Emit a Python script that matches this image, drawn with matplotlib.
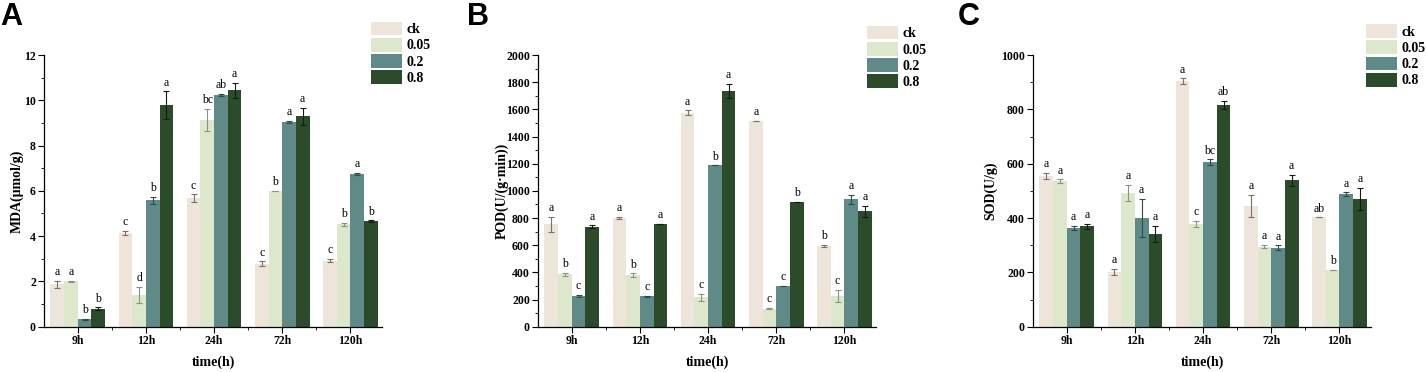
import numpy as np
import matplotlib
matplotlib.use("Agg")
import matplotlib.pyplot as plt
from matplotlib.ticker import MultipleLocator, FixedLocator

plt.rcParams["font.family"] = ["Liberation Serif", "DejaVu Serif"]

times = ["9h", "12h", "24h", "72h", "120h"]
treatments = ["ck", "0.05", "0.2", "0.8"]
colors = ["#ede5d9", "#dce7cb", "#5f8a88", "#2b4b2b"]
err_colors = ["#7a7268", "#8a9380", "#2f4a48", "#101c10"]

# MDA (umol/g), rows = treatments, cols = times
mda = [
    [1.88, 4.15, 5.67, 2.78, 2.92],
    [2.00, 1.41, 9.13, 5.99, 4.52],
    [0.32, 5.58, 10.24, 9.04, 6.74],
    [0.80, 9.78, 10.44, 9.29, 4.67],
]
mda_err = [
    [0.16, 0.08, 0.17, 0.10, 0.08],
    [0.02, 0.35, 0.50, 0.00, 0.07],
    [0.02, 0.15, 0.04, 0.05, 0.04],
    [0.06, 0.61, 0.32, 0.36, 0.03],
]
mda_sig = [
    ["a", "c", "c", "c", "c"],
    ["a", "d", "bc", "b", "b"],
    ["b", "b", "ab", "a", "a"],
    ["b", "a", "a", "a", "b"],
]

# POD (U/(g*min))
pod = [
    [753, 800, 1575, 1517, 594],
    [385, 378, 216, 133, 226],
    [226, 223, 1188, 300, 937],
    [736, 756, 1735, 920, 849],
]
pod_err = [
    [57, 6, 18, 0, 8],
    [10, 15, 25, 5, 45],
    [8, 3, 0, 0, 35],
    [10, 0, 52, 0, 40],
]
pod_sig = [
    ["a", "a", "a", "a", "b"],
    ["b", "b", "c", "c", "c"],
    ["c", "c", "b", "c", "a"],
    ["a", "a", "a", "b", "a"],
]

# SOD (U/g)
sod = [
    [555, 201, 904, 444, 402],
    [535, 491, 378, 294, 209],
    [363, 400, 606, 291, 487],
    [369, 340, 815, 539, 471],
]
sod_err = [
    [10, 12, 10, 40, 0],
    [7, 30, 12, 6, 0],
    [7, 70, 10, 8, 7],
    [10, 30, 15, 20, 40],
]
sod_sig = [
    ["a", "a", "a", "a", "ab"],
    ["a", "a", "c", "a", "b"],
    ["a", "a", "bc", "a", "a"],
    ["a", "a", "ab", "a", "a"],
]

panels = [
    dict(letter="A", ylabel="MDA(μmol/g)", vals=mda, errs=mda_err, sig=mda_sig,
         ymax=12, major=2, minor=1, left=44.3, lab_x=-0.082, leg=(0.968, 1.123), let_x=0),
    dict(letter="B", ylabel="POD(U/(g·min))", vals=pod, errs=pod_err, sig=pod_sig,
         ymax=2000, major=200, minor=100, left=538.3, lab_x=-0.108, leg=(0.973, 1.108), let_x=467),
    dict(letter="C", ylabel="SOD(U/g)", vals=sod, errs=sod_err, sig=sod_sig,
         ymax=1000, major=200, minor=100, left=1033.3, lab_x=-0.126, leg=(0.985, 1.114), let_x=958),
]

W, H = 1426, 372
fig = plt.figure(figsize=(W / 100, H / 100), dpi=100)

x = np.arange(len(times))
bw = 0.2
for p in panels:
    ax = fig.add_axes([p["left"] / W, 1 - 326.7 / H, 337.5 / W, 271.7 / H])
    off = p["ymax"] * 0.01
    for i, t in enumerate(treatments):
        xs = x + (i - 1.5) * bw
        ax.bar(xs, p["vals"][i], bw, color=colors[i], label=t, zorder=2)
        ax.errorbar(xs, p["vals"][i], yerr=p["errs"][i], fmt="none", ecolor=err_colors[i],
                    elinewidth=0.8, capsize=2.2, capthick=0.8, zorder=3)
        for xi, v, e, s in zip(xs, p["vals"][i], p["errs"][i], p["sig"][i]):
            ax.text(xi, v + e + off, s, ha="center", va="bottom", fontsize=8.5)

    ax.set_xlim(-0.49, 4.46)
    ax.set_ylim(0, p["ymax"])
    ax.set_xticks(x)
    ax.set_xticklabels(times, fontsize=8.5, fontweight="bold")
    ax.xaxis.set_minor_locator(FixedLocator(x[:-1] + 0.5))
    ax.yaxis.set_major_locator(MultipleLocator(p["major"]))
    ax.yaxis.set_minor_locator(MultipleLocator(p["minor"]))
    for lab in ax.get_yticklabels():
        lab.set_fontsize(8.5)
        lab.set_fontweight("bold")
    ax.tick_params(axis="both", which="major", direction="out", length=4, width=0.8, pad=2)
    ax.tick_params(axis="both", which="minor", direction="out", length=2.5, width=0.6)
    ax.spines["top"].set_visible(False)
    ax.spines["right"].set_visible(False)
    ax.spines["left"].set_linewidth(0.9)
    ax.spines["bottom"].set_linewidth(0.9)

    ax.set_ylabel(p["ylabel"], fontsize=10, fontweight="bold")
    ax.yaxis.label.set_va("center")
    ax.yaxis.set_label_coords(p["lab_x"], 0.5)
    ax.set_xlabel("time(h)", fontsize=10, fontweight="bold")
    ax.xaxis.label.set_va("center")
    ax.xaxis.set_label_coords(0.5, -0.1325)

    ax.legend(loc="upper left", bbox_to_anchor=p["leg"], frameon=False, borderpad=0,
              borderaxespad=0, handlelength=2.25, handleheight=1.15, labelspacing=0.12,
              handletextpad=0.3, prop={"size": 10, "weight": "bold"})

    fig.text(p["let_x"] / W, 1 - 2 / H, p["letter"], ha="left", va="top", fontsize=22,
             fontweight="bold", family=["Liberation Sans", "DejaVu Sans"])

fig.savefig("out.png", dpi=100)
